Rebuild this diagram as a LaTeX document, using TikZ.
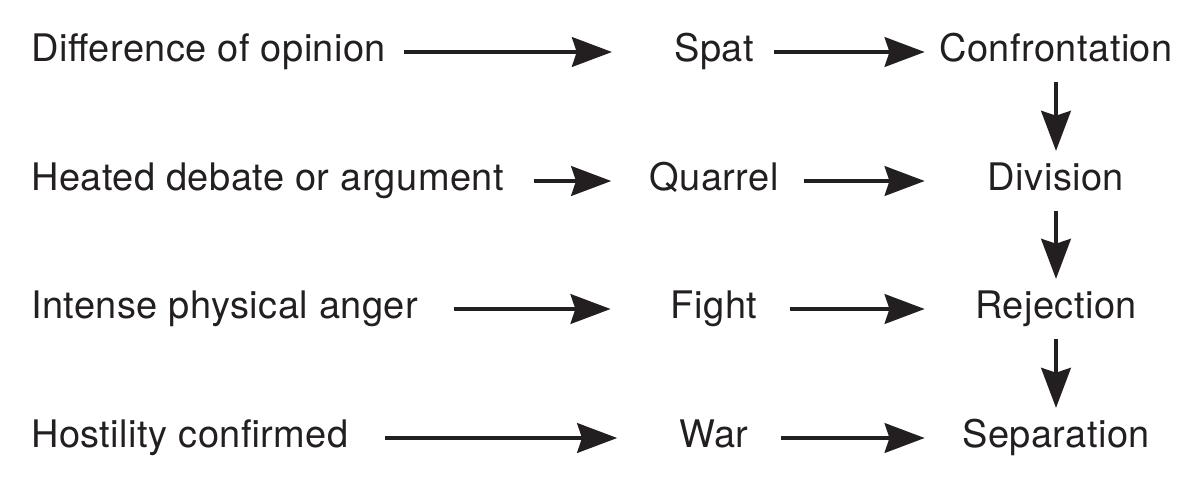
\documentclass[tikz,border=0pt]{standalone}
\usepackage{fontspec}
\setmainfont[LetterSpace=1.2]{TeX Gyre Heros}
\usetikzlibrary{arrows.meta}
\definecolor{inkcolor}{RGB}{35, 31, 32}

\begin{document}
\begin{tikzpicture}[
    x=0.025cm, y=-0.025cm,
    word/.style={inner sep=0pt, text height=0.65cm, text depth=0.2cm, text=inkcolor, font=\fontsize{27}{32}\selectfont},
    cause/.style={word, anchor=west},
    stage/.style={word},
    result/.style={word, minimum width=6.55cm},
    arrow/.style={-{Stealth[length=1cm, width=0.74cm, inset=0.12cm]}, line width=0.1cm, draw=inkcolor},
    down/.style={arrow, shorten <=0.32cm, shorten >=0.32cm}
]
\useasboundingbox (0,0) rectangle (1200,481);

% Left column
\node[cause] (opinion) at (31,52) {Difference of opinion};
\node[cause] (debate) at (31,181) {Heated debate or argument};
\node[cause] (anger) at (31,309) {Intense physical anger};
\node[cause] (hostility) at (31,438) {Hostility confirmed};

% Middle column
\node[stage] (spat) at (714,52) {Spat};
\node[stage] (quarrel) at (714,181) {Quarrel};
\node[stage] (fight) at (714,309) {Fight};
\node[stage] (war) at (714,438) {War};

% Right column
\node[result] (confront) at (1056,52) {Confrontation};
\node[result] (division) at (1056,181) {Division};
\node[result] (rejection) at (1056,309) {Rejection};
\node[result] (separation) at (1056,438) {Separation};

% Arrows
\draw[arrow, shorten <=0.45cm, shorten >=1.55cm] (opinion) -- (spat);
\draw[arrow, shorten <=0.75cm, shorten >=0.95cm] (debate) -- (quarrel);
\draw[arrow, shorten <=0.9cm, shorten >=1.5cm] (anger) -- (fight);
\draw[arrow, shorten <=0.9cm, shorten >=1.55cm] (hostility) -- (war);
\draw[arrow, shorten <=0.5cm] (spat) -- (confront);
\draw[arrow, shorten <=0.62cm] (quarrel) -- (division);
\draw[arrow, shorten <=0.82cm] (fight) -- (rejection);
\draw[arrow, shorten <=0.8cm] (war) -- (separation);
\draw[down] (confront) -- (division);
\draw[down] (division) -- (rejection);
\draw[down] (rejection) -- (separation);

\end{tikzpicture}
\end{document}
